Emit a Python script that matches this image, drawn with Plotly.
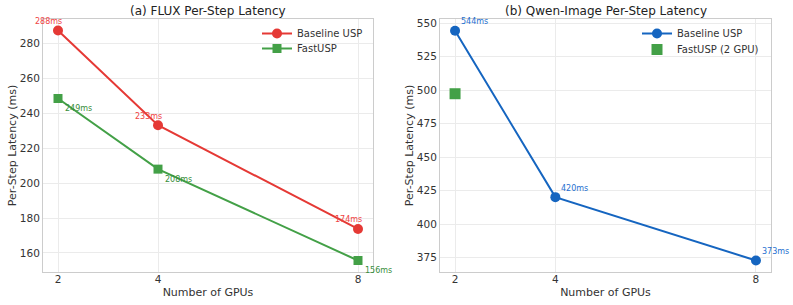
import plotly.graph_objects as go

gpus = [2, 4, 8]
flux_baseline = [287.6, 233.3, 173.8]
flux_fast = [248.6, 208.1, 155.7]
flux_baseline_labels = ["288ms", "233ms", "174ms"]
flux_fast_labels = ["249ms", "208ms", "156ms"]

qwen_gpus = [2, 4, 8]
qwen_baseline = [544.3, 420.1, 372.8]
qwen_baseline_labels = ["544ms", "420ms", "373ms"]
qwen_fast_gpus = [2]
qwen_fast = [497.3]

RED = "#E53935"
GREEN = "#43A047"
BLUE = "#1565C0"
FONT = "DejaVu Sans"

W, H = 793, 305


def px(xp):
    return xp / W


def py(yp):
    return 1 - yp / H


fig = go.Figure()

fig.add_trace(go.Scatter(x=gpus, y=flux_baseline, mode="lines+markers", name="Baseline USP",
                         line=dict(color=RED, width=2), marker=dict(symbol="circle", size=10, color=RED),
                         xaxis="x", yaxis="y", legend="legend3"))
fig.add_trace(go.Scatter(x=gpus, y=flux_fast, mode="lines+markers", name="FastUSP",
                         line=dict(color=GREEN, width=2), marker=dict(symbol="square", size=9, color=GREEN),
                         xaxis="x", yaxis="y", legend="legend5"))
fig.add_trace(go.Scatter(x=qwen_gpus, y=qwen_baseline, mode="lines+markers", name="Baseline USP",
                         line=dict(color=BLUE, width=2), marker=dict(symbol="circle", size=10, color=BLUE),
                         xaxis="x2", yaxis="y2", legend="legend2"))
fig.add_trace(go.Scatter(x=qwen_fast_gpus, y=qwen_fast, mode="markers", name="FastUSP (2 GPU)",
                         marker=dict(symbol="square", size=11, color=GREEN),
                         xaxis="x2", yaxis="y2", legend="legend4"))

annotations = []
for xv, yv, t in zip(gpus, flux_baseline, flux_baseline_labels):
    annotations.append(dict(x=xv, y=yv, xref="x", yref="y", text=t, showarrow=False,
                            xanchor="center", yanchor="middle", xshift=-10, yshift=9,
                            font=dict(family=FONT, size=8, color="#EF4444")))
for xv, yv, t in zip(gpus, flux_fast, flux_fast_labels):
    annotations.append(dict(x=xv, y=yv, xref="x", yref="y", text=t, showarrow=False,
                            xanchor="left", yanchor="middle", xshift=5, yshift=-10,
                            font=dict(family=FONT, size=8, color="#388E3C")))
for xv, yv, t in zip(qwen_gpus, qwen_baseline, qwen_baseline_labels):
    annotations.append(dict(x=xv, y=yv, xref="x2", yref="y2", text=t, showarrow=False,
                            xanchor="left", yanchor="middle", xshift=4, yshift=9,
                            font=dict(family=FONT, size=8, color="#1E6FD0")))

d1 = [px(43), px(373)]
d2 = [px(440), px(771)]
dy = [py(272), py(19)]

annotations.append(dict(x=(d1[0] + d1[1]) / 2, y=py(10.5), xref="paper", yref="paper",
                        text="(a) FLUX Per-Step Latency", showarrow=False, xanchor="center", yanchor="middle",
                        font=dict(family=FONT, size=12, color="#222")))
annotations.append(dict(x=(d2[0] + d2[1]) / 2, y=py(10.5), xref="paper", yref="paper",
                        text="(b) Qwen-Image Per-Step Latency", showarrow=False, xanchor="center", yanchor="middle",
                        font=dict(family=FONT, size=12, color="#222")))

axis_common = dict(showgrid=True, gridcolor="#EBEBEB", gridwidth=1, zeroline=False,
                   showline=True, linecolor="#CCCCCC", linewidth=1, mirror=True, automargin=False,
                   ticks="", tickfont=dict(family=FONT, size=10.5, color="#333"))

xtitle = dict(text="Number of GPUs", font=dict(family=FONT, size=11, color="#333"), standoff=4)
ytitle = dict(text="Per-Step Latency (ms)", font=dict(family=FONT, size=11, color="#333"), standoff=1)


def leg(xp, yp):
    return dict(x=px(xp), y=py(yp), xanchor="left", yanchor="top", bgcolor="rgba(255,255,255,0)",
                font=dict(family=FONT, size=10, color="#333"), tracegroupgap=0)


fig.update_layout(
    width=W, height=H, margin=dict(l=0, r=0, t=0, b=0, autoexpand=False),
    paper_bgcolor="white", plot_bgcolor="white",
    font=dict(family=FONT, color="#333"),
    annotations=annotations,
    xaxis=dict(domain=d1, range=[1.7, 8.3], tickvals=gpus, ticktext=[str(g) for g in gpus],
               title=xtitle, anchor="y", ticklabelstandoff=-3, **axis_common),
    yaxis=dict(domain=dy, range=[149.1, 294.2], tickvals=[160, 180, 200, 220, 240, 260, 280],
               title=ytitle, anchor="x", **axis_common),
    xaxis2=dict(domain=d2, range=[1.7, 8.3], tickvals=qwen_gpus, ticktext=[str(g) for g in qwen_gpus],
                title=xtitle, anchor="y2", ticklabelstandoff=-3, **axis_common),
    yaxis2=dict(domain=dy, range=[364.2, 553.1], tickvals=[375, 400, 425, 450, 475, 500, 525, 550],
                title=ytitle, anchor="x2", **axis_common),
    legend3=leg(257, 19),
    legend5=leg(257, 34),
    legend2=leg(637, 19),
    legend4=leg(637, 35),
)

# the page body's default 8px margin would shift and clip the figure
fig.write_html("out.html", config={"displayModeBar": False},
               post_script="document.body.style.margin='0px';")
